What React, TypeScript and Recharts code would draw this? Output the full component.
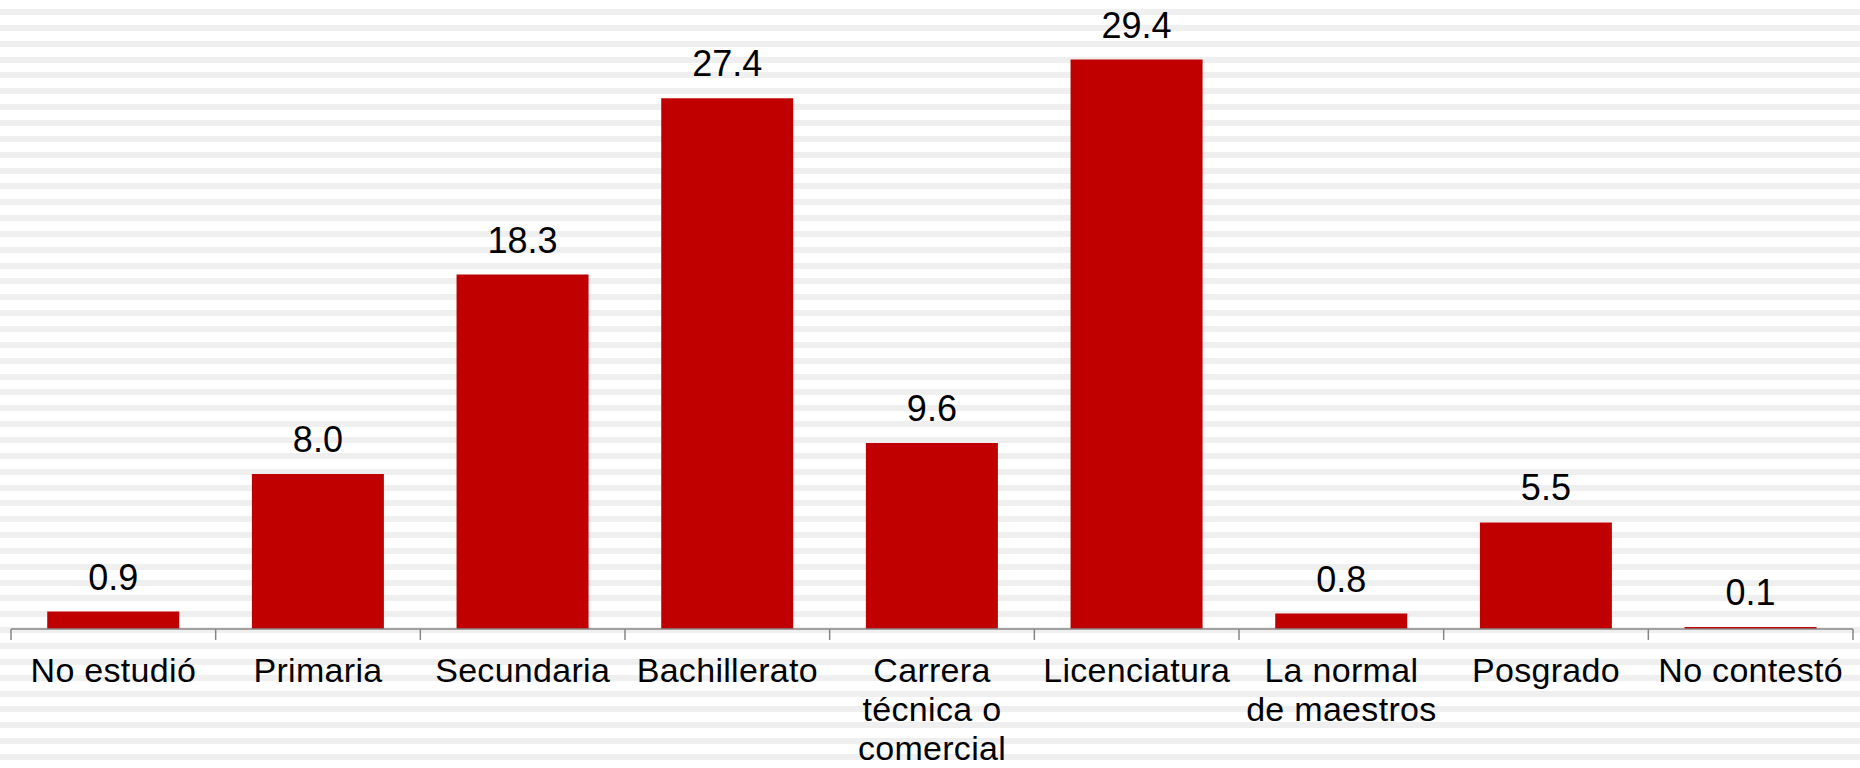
import { Bar, BarChart, LabelList, XAxis, YAxis } from 'recharts'

const categories = [
  'No estudió',
  'Primaria',
  'Secundaria',
  'Bachillerato',
  'Carrera\ntécnica o\ncomercial',
  'Licenciatura',
  'La normal\nde maestros',
  'Posgrado',
  'No contestó'
]

const values = [0.9, 8.0, 18.3, 27.4, 9.6, 29.4, 0.8, 5.5, 0.1]

const data = categories.map((name, i) => ({ name, value: values[i] }))

const WIDTH = 1860
const HEIGHT = 768
const MARGIN = { top: 48, right: 7, left: 11, bottom: 0 }
const BAND = (WIDTH - MARGIN.left - MARGIN.right) / categories.length
const AXIS_COLOR = '#868686'
const FONT = '"Liberation Sans", Arial, sans-serif'

function CategoryTick(props: any) {
  const { x, y, payload, index } = props
  const lines = String(payload.value).split('\n')
  const half = BAND / 2
  return (
    <g>
      <line x1={x - half} x2={x - half} y1={y} y2={y + 11} stroke={AXIS_COLOR} strokeWidth={1.5} />
      {index === categories.length - 1 && (
        <line x1={x + half} x2={x + half} y1={y} y2={y + 11} stroke={AXIS_COLOR} strokeWidth={1.5} />
      )}
      <text
        x={x}
        y={y + 53}
        textAnchor="middle"
        fontSize={34}
        letterSpacing={0.3}
        fill="#000"
        fontFamily={FONT}
      >
        {lines.map((line, i) => (
          <tspan key={i} x={x} dy={i === 0 ? 0 : 39}>
            {line}
          </tspan>
        ))}
      </text>
    </g>
  )
}

export default function App() {
  return (
    <div
      style={{
        position: 'absolute',
        left: 0,
        top: 0,
        width: WIDTH,
        height: HEIGHT,
        background:
          'repeating-linear-gradient(to bottom, #ffffff 0px, #ffffff 9px, #efefef 9px, #efefef 15px, #ffffff 15px, #ffffff 15.85px)'
      }}
    >
      <BarChart width={WIDTH} height={HEIGHT} data={data} margin={MARGIN} barCategoryGap="17.7%">
        <XAxis
          dataKey="name"
          interval={0}
          height={HEIGHT - 629}
          tickSize={0}
          tickMargin={0}
          tickLine={false}
          axisLine={{ stroke: AXIS_COLOR, strokeWidth: 1.5 }}
          tick={<CategoryTick />}
        />
        <YAxis hide domain={[0, 30]} />
        <Bar dataKey="value" fill="#c00000" isAnimationActive={false}>
          <LabelList
            dataKey="value"
            position="top"
            offset={22}
            formatter={(v: any) => Number(v).toFixed(1)}
            style={{ fontSize: 36, fill: '#000', fontFamily: FONT }}
          />
        </Bar>
      </BarChart>
    </div>
  )
}
